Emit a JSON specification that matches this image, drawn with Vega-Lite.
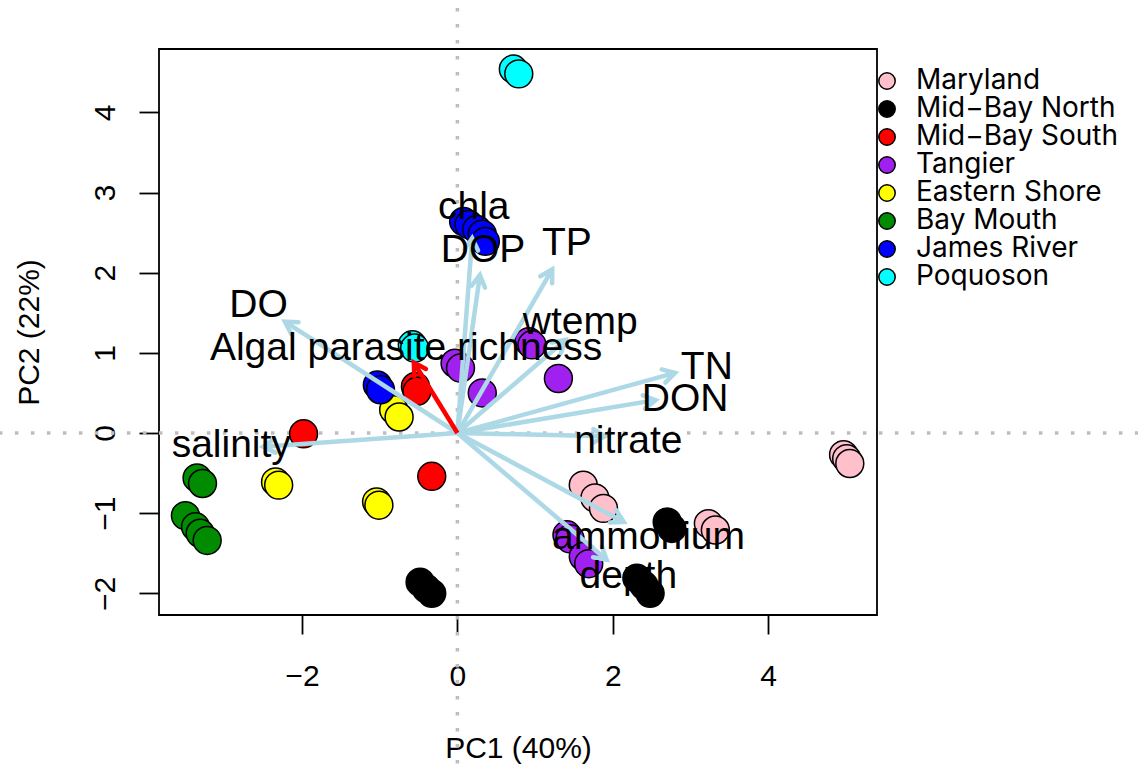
{
  "$schema": "https://vega.github.io/schema/vega-lite/v6.json",
  "width": 718,
  "height": 566,
  "autosize": {"type": "none"},
  "padding": {"left": 159, "top": 49, "right": 261, "bottom": 151},
  "background": "white",
  "config": {
    "view": {"stroke": "black", "strokeWidth": 1.8},
    "font": "Liberation Sans",
    "axis": {"grid": false, "domain": false, "tickColor": "black", "tickWidth": 1.8, "labelColor": "black", "titleColor": "black", "labelFont": "Liberation Sans", "titleFont": "Liberation Sans", "labelFontSize": 30, "titleFontSize": 30, "titleFontWeight": "normal"}
  },
  "datasets": {
    "scores": [
      {"pc1": 4.97, "pc2": -0.27, "region": "Maryland"},
      {"pc1": 5.01, "pc2": -0.32, "region": "Maryland"},
      {"pc1": 5.05, "pc2": -0.38, "region": "Maryland"},
      {"pc1": 1.62, "pc2": -0.65, "region": "Maryland"},
      {"pc1": 1.77, "pc2": -0.81, "region": "Maryland"},
      {"pc1": 1.88, "pc2": -0.94, "region": "Maryland"},
      {"pc1": 3.23, "pc2": -1.13, "region": "Maryland"},
      {"pc1": 3.32, "pc2": -1.21, "region": "Maryland"},
      {"pc1": -0.48, "pc2": -1.86, "region": "Mid−Bay North"},
      {"pc1": -0.40, "pc2": -1.94, "region": "Mid−Bay North"},
      {"pc1": -0.33, "pc2": -2.0, "region": "Mid−Bay North"},
      {"pc1": 2.70, "pc2": -1.11, "region": "Mid−Bay North"},
      {"pc1": 2.76, "pc2": -1.19, "region": "Mid−Bay North"},
      {"pc1": 2.31, "pc2": -1.81, "region": "Mid−Bay North"},
      {"pc1": 2.40, "pc2": -1.90, "region": "Mid−Bay North"},
      {"pc1": 2.48, "pc2": -2.0, "region": "Mid−Bay North"},
      {"pc1": -0.54, "pc2": 0.58, "region": "Mid−Bay South"},
      {"pc1": -0.52, "pc2": 0.52, "region": "Mid−Bay South"},
      {"pc1": -1.98, "pc2": -0.01, "region": "Mid−Bay South"},
      {"pc1": -0.33, "pc2": -0.54, "region": "Mid−Bay South"},
      {"pc1": -0.03, "pc2": 0.87, "region": "Tangier"},
      {"pc1": 0.04, "pc2": 0.81, "region": "Tangier"},
      {"pc1": 0.32, "pc2": 0.50, "region": "Tangier"},
      {"pc1": 0.92, "pc2": 1.14, "region": "Tangier"},
      {"pc1": 0.96, "pc2": 1.10, "region": "Tangier"},
      {"pc1": 1.30, "pc2": 0.68, "region": "Tangier"},
      {"pc1": 1.41, "pc2": -1.27, "region": "Tangier"},
      {"pc1": 1.45, "pc2": -1.32, "region": "Tangier"},
      {"pc1": 1.62, "pc2": -1.54, "region": "Tangier"},
      {"pc1": 1.69, "pc2": -1.63, "region": "Tangier"},
      {"pc1": -0.82, "pc2": 0.29, "region": "Eastern Shore"},
      {"pc1": -0.75, "pc2": 0.20, "region": "Eastern Shore"},
      {"pc1": -2.34, "pc2": -0.61, "region": "Eastern Shore"},
      {"pc1": -2.30, "pc2": -0.65, "region": "Eastern Shore"},
      {"pc1": -1.04, "pc2": -0.86, "region": "Eastern Shore"},
      {"pc1": -1.01, "pc2": -0.90, "region": "Eastern Shore"},
      {"pc1": -3.35, "pc2": -0.56, "region": "Bay Mouth"},
      {"pc1": -3.28, "pc2": -0.63, "region": "Bay Mouth"},
      {"pc1": -3.50, "pc2": -1.03, "region": "Bay Mouth"},
      {"pc1": -3.37, "pc2": -1.17, "region": "Bay Mouth"},
      {"pc1": -3.31, "pc2": -1.25, "region": "Bay Mouth"},
      {"pc1": -3.22, "pc2": -1.34, "region": "Bay Mouth"},
      {"pc1": -1.03, "pc2": 0.60, "region": "James River"},
      {"pc1": -0.99, "pc2": 0.54, "region": "James River"},
      {"pc1": 0.08, "pc2": 2.64, "region": "James River"},
      {"pc1": 0.15, "pc2": 2.60, "region": "James River"},
      {"pc1": 0.25, "pc2": 2.54, "region": "James River"},
      {"pc1": 0.32, "pc2": 2.48, "region": "James River"},
      {"pc1": 0.36, "pc2": 2.39, "region": "James River"},
      {"pc1": 0.72, "pc2": 4.54, "region": "Poquoson"},
      {"pc1": 0.79, "pc2": 4.48, "region": "Poquoson"},
      {"pc1": -0.58, "pc2": 1.10, "region": "Poquoson"},
      {"pc1": -0.55, "pc2": 1.06, "region": "Poquoson"}
    ],
    "loadings": [
      {"var": "DO", "pc1": -2.22, "pc2": 1.39, "lx": -2.56, "ly": 1.60},
      {"var": "Algal parasite richness", "pc1": -0.56, "pc2": 0.88, "lx": -0.66, "ly": 1.06},
      {"var": "salinity", "pc1": -2.50, "pc2": -0.17, "lx": -2.91, "ly": -0.15},
      {"var": "chla", "pc1": 0.19, "pc2": 2.43, "lx": 0.21, "ly": 2.82},
      {"var": "DOP", "pc1": 0.29, "pc2": 1.97, "lx": 0.33, "ly": 2.28},
      {"var": "TP", "pc1": 1.22, "pc2": 2.04, "lx": 1.41, "ly": 2.37},
      {"var": "wtemp", "pc1": 1.39, "pc2": 1.16, "lx": 1.58, "ly": 1.39},
      {"var": "TN", "pc1": 2.80, "pc2": 0.75, "lx": 3.21, "ly": 0.82},
      {"var": "DON", "pc1": 2.55, "pc2": 0.41, "lx": 2.93, "ly": 0.43},
      {"var": "nitrate", "pc1": 1.90, "pc2": -0.04, "lx": 2.20, "ly": -0.10},
      {"var": "ammonium", "pc1": 2.14, "pc2": -1.11, "lx": 2.46, "ly": -1.30},
      {"var": "depth", "pc1": 1.92, "pc2": -1.58, "lx": 2.20, "ly": -1.78}
    ]
  },
  "layer": [
    {
      "data": {"values": [{}]},
      "mark": {"type": "rule", "clip": false, "color": "#BEBEBE", "strokeWidth": 3.5, "strokeDash": [3.5, 12.5]},
      "encoding": {
        "x": {"datum": 0, "type": "quantitative", "title": "PC1 (40%)", "scale": {"domain": [-3.84, 5.40], "nice": false, "zero": false}},
        "y": {"datum": 5.5, "type": "quantitative", "title": "PC2 (22%)", "scale": {"domain": [-2.27, 4.79], "nice": false, "zero": false}},
        "y2": {"datum": -4.2}
      }
    },
    {
      "data": {"values": [{}]},
      "mark": {"type": "rule", "clip": false, "color": "#BEBEBE", "strokeWidth": 3.5, "strokeDash": [3.5, 12.5]},
      "encoding": {
        "y": {"datum": 0, "type": "quantitative", "title": "PC2 (22%)"},
        "x": {"datum": -5.9, "type": "quantitative", "title": "PC1 (40%)"},
        "x2": {"datum": 8.8}
      }
    },
    {
      "data": {"name": "scores"},
      "mark": {"type": "circle", "size": 780, "opacity": 1, "stroke": "black", "strokeWidth": 1.5},
      "encoding": {
        "x": {"field": "pc1", "type": "quantitative", "title": "PC1 (40%)", "axis": {"values": [-2, 0, 2, 4], "format": "d", "tickSize": 19, "labelPadding": 27, "titleY": 133, "titleBaseline": "middle"}},
        "y": {"field": "pc2", "type": "quantitative", "title": "PC2 (22%)", "axis": {"values": [-2, -1, 0, 1, 2, 3, 4], "format": "d", "tickSize": 20, "labelPadding": 25, "labelAngle": -90, "labelAlign": "center", "labelBaseline": "alphabetic", "titleX": -130, "titleY": 283, "titleAngle": -90, "titleAlign": "center", "titleBaseline": "middle"}},
        "fill": {
          "field": "region", "type": "nominal",
          "scale": {"domain": ["Maryland", "Mid−Bay North", "Mid−Bay South", "Tangier", "Eastern Shore", "Bay Mouth", "James River", "Poquoson"],
                    "range": ["#FFC0CB", "#000000", "#FF0000", "#A020F0", "#FFFF00", "#008B00", "#0000FF", "#00FFFF"]},
          "legend": {
            "title": null, "orient": "none", "legendX": 714, "legendY": 18, "padding": 0,
            "symbolType": "circle", "symbolSize": 270, "symbolStrokeColor": "black", "symbolStrokeWidth": 1.5, "symbolOpacity": 1,
            "labelFontSize": 28, "labelFont": "Inter", "labelColor": "black", "labelOffset": 15, "rowPadding": 0, "labelLimit": 400,
            "encode": {"symbols": {"update": {
              "fill": {"signal": "datum.value === 'Maryland' ? '#CD919E' : scale('fill', datum.value)"},
              "stroke": {"value": "black"},
              "strokeWidth": {"value": 1.5}
            }}}
          }
        }
      }
    },
    {
      "data": {"name": "loadings"},
      "transform": [{"filter": "datum.var !== 'Algal parasite richness'"}],
      "mark": {"type": "rule", "color": "#ADD8E6", "strokeWidth": 4.5},
      "encoding": {
        "x": {"field": "pc1", "type": "quantitative", "title": "PC1 (40%)"},
        "y": {"field": "pc2", "type": "quantitative", "title": "PC2 (22%)"},
        "x2": {"datum": 0},
        "y2": {"datum": 0}
      }
    },
    {
      "data": {"name": "loadings"},
      "transform": [
        {"filter": "datum.var !== 'Algal parasite richness'"},
        {"calculate": "atan2(datum.pc1 * 77.7, datum.pc2 * 80.1) * 180 / PI", "as": "ang"}
      ],
      "mark": {"type": "point", "shape": "M-0.5,0.866L0,0L0.5,0.866", "filled": false, "size": 750, "stroke": "#ADD8E6", "strokeWidth": 4.5, "strokeCap": "round", "opacity": 1},
      "encoding": {
        "x": {"field": "pc1", "type": "quantitative", "title": "PC1 (40%)"},
        "y": {"field": "pc2", "type": "quantitative", "title": "PC2 (22%)"},
        "angle": {"field": "ang", "type": "quantitative", "scale": null}
      }
    },
    {
      "data": {"name": "loadings"},
      "transform": [{"filter": "datum.var === 'Algal parasite richness'"}],
      "mark": {"type": "rule", "color": "#FF0000", "strokeWidth": 4.5},
      "encoding": {
        "x": {"field": "pc1", "type": "quantitative", "title": "PC1 (40%)"},
        "y": {"field": "pc2", "type": "quantitative", "title": "PC2 (22%)"},
        "x2": {"datum": 0},
        "y2": {"datum": 0}
      }
    },
    {
      "data": {"name": "loadings"},
      "transform": [
        {"filter": "datum.var === 'Algal parasite richness'"},
        {"calculate": "atan2(datum.pc1 * 77.7, datum.pc2 * 80.1) * 180 / PI", "as": "ang"}
      ],
      "mark": {"type": "point", "shape": "M-0.5,0.866L0,0L0.5,0.866", "filled": false, "size": 750, "stroke": "#FF0000", "strokeWidth": 4.5, "strokeCap": "round", "opacity": 1},
      "encoding": {
        "x": {"field": "pc1", "type": "quantitative", "title": "PC1 (40%)"},
        "y": {"field": "pc2", "type": "quantitative", "title": "PC2 (22%)"},
        "angle": {"field": "ang", "type": "quantitative", "scale": null}
      }
    },
    {
      "data": {"name": "loadings"},
      "mark": {"type": "text", "fontSize": 39, "font": "Liberation Sans", "color": "black", "align": "center", "baseline": "middle"},
      "encoding": {
        "x": {"field": "lx", "type": "quantitative", "title": "PC1 (40%)"},
        "y": {"field": "ly", "type": "quantitative", "title": "PC2 (22%)"},
        "text": {"field": "var"}
      }
    }
  ]
}
